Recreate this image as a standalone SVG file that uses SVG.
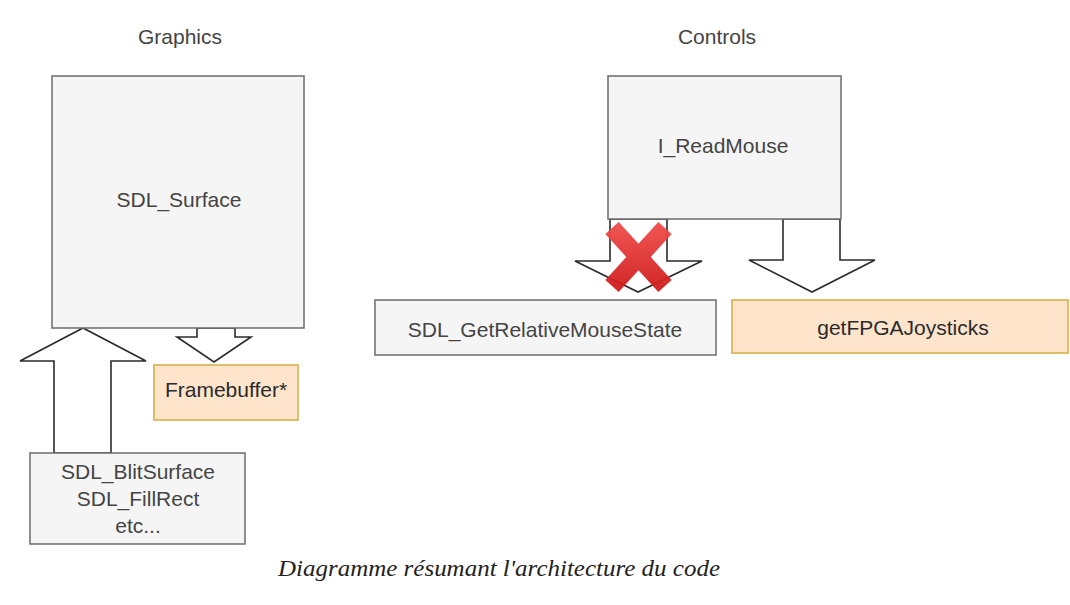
<svg xmlns="http://www.w3.org/2000/svg" width="1070" height="605" viewBox="0 0 1070 605">
  <style>
    .lbl { font-family: "Liberation Sans", Arial, sans-serif; font-size: 21px; fill: #444; text-anchor: middle; }
    .lbl-dark { fill: #2a2a2a; }
    .box { fill: #f5f5f5; stroke: #6b6b6b; stroke-width: 1.5; }
    .box-warm { fill: #fde4cb; stroke: #dcb85c; stroke-width: 1.8; }
    .flex { fill: #ffffff; stroke: #2b2b2b; stroke-width: 1.6; stroke-linejoin: miter; }
    .caption { font-family: "Liberation Serif", "Times New Roman", serif; font-style: italic; font-size: 23px; fill: #222; text-anchor: middle; }
  </style>
  <defs>
    <linearGradient id="crossRed" x1="0" y1="0" x2="0" y2="1">
      <stop offset="0" stop-color="#ee4a48"/>
      <stop offset="1" stop-color="#d11e1e"/>
    </linearGradient>
  </defs>
  <rect width="1070" height="605" fill="#ffffff"/>

  <!-- Section headings -->
  <text class="lbl" x="180" y="44">Graphics</text>
  <text class="lbl" x="717" y="44">Controls</text>

  <!-- Block arrows (connectors) -->
  <g id="connectors">
    <!-- SDL_BlitSurface / FillRect up into SDL_Surface -->
    <polygon class="flex" points="54,453 54,361 20,361 83,328 146,361 111,361 111,453"/>
    <!-- SDL_Surface down to Framebuffer -->
    <polygon class="flex" points="197,328 197,337 177,337 214,362 251,337 235,337 235,328"/>
    <!-- I_ReadMouse down to SDL_GetRelativeMouseState (disabled) -->
    <polygon class="flex" points="610,219 610,261 575,261 638,292 702,261 667,261 667,219"/>
    <!-- I_ReadMouse down to getFPGAJoysticks -->
    <polygon class="flex" points="783,219 783,260 749,260 812,292 875,260 840,260 840,219"/>
    <!-- red cross over the disabled path -->
    <g id="cross" stroke="url(#crossRed)" stroke-width="18" stroke-linecap="butt" opacity="0.95">
      <line x1="612" y1="228" x2="665" y2="286"/>
      <line x1="665" y1="228" x2="612" y2="286"/>
    </g>
  </g>

  <!-- Graphics side -->
  <g id="node-sdl-surface">
    <rect class="box" x="52" y="76" width="252" height="252"/>
    <text class="lbl" x="179" y="207">SDL_Surface</text>
  </g>
  <g id="node-framebuffer">
    <rect class="box-warm" x="154" y="365" width="144" height="55"/>
    <text class="lbl lbl-dark" x="226" y="397">Framebuffer*</text>
  </g>
  <g id="node-blit">
    <rect class="box" x="30" y="453" width="215" height="91"/>
    <text class="lbl" x="138" y="479">SDL_BlitSurface</text>
    <text class="lbl" x="138" y="506">SDL_FillRect</text>
    <text class="lbl" x="138" y="533">etc...</text>
  </g>

  <!-- Controls side -->
  <g id="node-readmouse">
    <rect class="box" x="608" y="76" width="233" height="143"/>
    <text class="lbl" x="723" y="153">I_ReadMouse</text>
  </g>
  <g id="node-relmouse">
    <rect class="box" x="375" y="300" width="341" height="55"/>
    <text class="lbl" x="545" y="337">SDL_GetRelativeMouseState</text>
  </g>
  <g id="node-joysticks">
    <rect class="box-warm" x="732" y="300" width="336" height="53"/>
    <text class="lbl lbl-dark" x="903" y="335">getFPGAJoysticks</text>
  </g>

  <!-- Caption -->
  <text class="caption" x="499" y="576" textLength="442" lengthAdjust="spacingAndGlyphs">Diagramme résumant l'architecture du code</text>
</svg>
